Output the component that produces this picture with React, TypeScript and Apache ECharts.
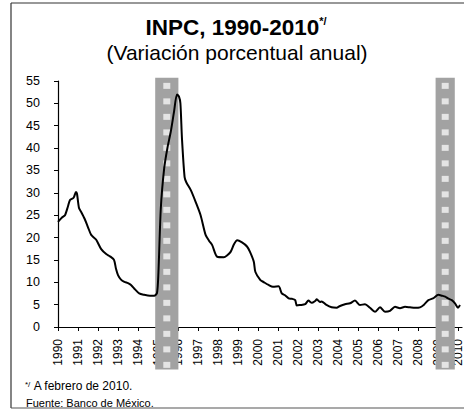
import React, { useEffect, useRef } from "react";
import * as echarts from "echarts";

const TITLE = "INPC, 1990-2010";
const TITLE_MARK = "*/";
const SUBTITLE = "(Variación porcentual anual)";
const NOTE_MARK = "*/";
const NOTE1 = "A febrero de 2010.";
const NOTE2 = "Fuente: Banco de México.";

const X_MIN = 1990;
const X_MAX = 2010.2;
const Y_MIN = 0;
const Y_MAX = 55;
const Y_STEP = 5;

// time (fractional year) and annual % change
const TIMES = [
  1990.0, 1990.2, 1990.35, 1990.5, 1990.6, 1990.78, 1990.9, 1990.95, 1991.05, 1991.15,
  1991.33, 1991.5, 1991.66, 1991.91, 1992.16, 1992.41, 1992.6, 1992.8, 1992.9, 1993.0,
  1993.15, 1993.32, 1993.5, 1993.65, 1993.85, 1994.06, 1994.31, 1994.6, 1994.81, 1994.95,
  1995.02, 1995.14, 1995.31, 1995.47, 1995.64, 1995.8, 1995.95, 1996.05, 1996.12, 1996.2,
  1996.33, 1996.42, 1996.64, 1996.88, 1997.13, 1997.38, 1997.55, 1997.71, 1997.96, 1998.29,
  1998.45, 1998.63, 1998.8, 1998.96, 1999.2, 1999.45, 1999.6, 1999.79, 1999.87, 2000.12,
  2000.3, 2000.53, 2000.75, 2001.03, 2001.19, 2001.35, 2001.53, 2001.7, 2001.86, 2001.94,
  2002.1, 2002.36, 2002.52, 2002.69, 2002.85, 2002.94, 2003.1, 2003.18, 2003.4, 2003.68,
  2003.93, 2004.1, 2004.35, 2004.6, 2004.85, 2005.1, 2005.35, 2005.6, 2005.85, 2006.1,
  2006.35, 2006.6, 2006.85, 2007.1, 2007.35, 2007.6, 2007.85, 2008.1, 2008.3, 2008.52,
  2008.75, 2009.02, 2009.2, 2009.36, 2009.5, 2009.69, 2009.85, 2010.0, 2010.1,
];
const VALUES = [
  23.5, 24.5, 25.0, 27.0, 28.4, 28.9, 30.2, 29.8, 26.6, 25.8,
  24.2, 22.3, 20.6, 19.5, 17.4, 16.3, 15.8, 15.0, 13.0, 11.6,
  10.6, 10.1, 9.8, 9.4, 8.4, 7.5, 7.2, 7.0, 7.0, 7.6,
  12.0, 26.5, 35.5, 40.0, 43.7, 48.1, 52.0, 51.5, 50.0, 42.0,
  33.5, 32.3, 30.6, 28.0, 25.0, 20.6, 19.3, 18.3, 15.7, 15.6,
  16.0, 16.8, 18.5, 19.4, 18.9, 18.0, 16.8, 14.6, 12.3, 10.5,
  10.0, 9.4, 9.0, 9.1, 7.5, 7.1, 6.4, 6.3, 6.0, 4.8,
  4.9, 5.1, 5.9, 5.4, 5.8, 6.2, 5.6, 5.7, 5.0, 4.4,
  4.3, 4.7, 5.1, 5.3, 5.9, 4.9, 5.1, 4.3, 3.4, 4.4,
  3.4, 3.6, 4.5, 4.2, 4.5, 4.4, 4.3, 4.4, 5.0, 6.0,
  6.4, 7.2, 7.0, 6.8, 6.4, 6.0, 5.3, 4.3, 4.9,
];

// shaded periods (fractional years) and their vertical reach (axis values)
const BAND_STARTS = [1994.86, 2008.88];
const BAND_ENDS = [1996.02, 2009.84];
const BAND_TOP = 55.7;
const BAND_BOTTOM = -9.5;

const FONT = "'Liberation Sans', Arial, sans-serif";

export default function App() {
  const ref = useRef<HTMLDivElement>(null);

  useEffect(() => {
    if (!ref.current) return;
    const chart = echarts.init(ref.current, undefined, { renderer: "svg" });
    const data = TIMES.map((t, i) => [t, VALUES[i]]);

    const baseGraphic: any[] = [
      {
        id: "frameL",
        type: "line",
        shape: { x1: 11, y1: 3, x2: 11, y2: 408 },
        style: { stroke: "#333", lineWidth: 1.2 },
        silent: true,
      },
      {
        id: "frameT",
        type: "line",
        shape: { x1: 11, y1: 3, x2: 464, y2: 3 },
        style: { stroke: "#333", lineWidth: 1.2 },
        silent: true,
      },
      {
        id: "frameB",
        type: "line",
        shape: { x1: 11, y1: 408, x2: 464, y2: 408 },
        style: { stroke: "#555", lineWidth: 1.2 },
        silent: true,
      },
      {
        id: "title",
        type: "text",
        x: 236,
        y: 27,
        style: {
          text: `{a|${TITLE}}{b|${TITLE_MARK}}`,
          align: "center",
          verticalAlign: "middle",
          rich: {
            a: { fontFamily: FONT, fontWeight: "bold", fontSize: 22.5, fill: "#000" },
            b: { fontFamily: FONT, fontWeight: "bold", fontSize: 11, fill: "#000", verticalAlign: "top" },
          },
        },
      },
      {
        id: "subtitle",
        type: "text",
        x: 237,
        y: 52,
        style: {
          text: SUBTITLE,
          align: "center",
          verticalAlign: "middle",
          fontFamily: FONT,
          fontSize: 21,
          fill: "#000",
        },
      },
      {
        id: "note1",
        type: "text",
        x: 25,
        y: 386,
        style: {
          text: `{s|${NOTE_MARK}} {t|${NOTE1}}`,
          align: "left",
          verticalAlign: "middle",
          rich: {
            s: { fontFamily: FONT, fontSize: 8, fill: "#000", verticalAlign: "top" },
            t: { fontFamily: FONT, fontSize: 12, fill: "#000" },
          },
        },
      },
      {
        id: "note2",
        type: "text",
        x: 26,
        y: 403,
        style: {
          text: NOTE2,
          align: "left",
          verticalAlign: "middle",
          fontFamily: FONT,
          fontSize: 11,
          fill: "#000",
        },
      },
    ];

    chart.setOption({
      animation: false,
      backgroundColor: "#fff",
      grid: { left: 58, right: 0, top: 81, bottom: 86, containLabel: false },
      xAxis: {
        type: "value",
        min: X_MIN,
        max: X_MAX,
        interval: 1,
        axisLine: { show: true, lineStyle: { color: "#000", width: 1.2 } },
        axisTick: { show: true, length: 4, lineStyle: { color: "#000" } },
        splitLine: { show: false },
        axisLabel: {
          rotate: 90,
          margin: 12,
          fontFamily: FONT,
          fontSize: 12,
          color: "#000",
          showMaxLabel: false,
          formatter: (v: number) => (Math.abs(v - Math.round(v)) < 1e-6 ? String(Math.round(v)) : ""),
        },
      },
      yAxis: {
        type: "value",
        min: Y_MIN,
        max: Y_MAX,
        interval: Y_STEP,
        axisLine: { show: true, lineStyle: { color: "#000", width: 1.2 } },
        axisTick: { show: true, length: 4, lineStyle: { color: "#000" } },
        splitLine: { show: false },
        axisLabel: { margin: 18, fontFamily: FONT, fontSize: 12.5, color: "#000" },
      },
      series: [
        {
          type: "line",
          data,
          showSymbol: false,
          smooth: 0.25,
          z: 5,
          lineStyle: { color: "#000", width: 2 },
        },
      ],
      graphic: baseGraphic,
    });

    // shaded bands placed through the axis scales, with a light-square texture
    const bandEls: any[] = [];
    BAND_STARTS.forEach((s, i) => {
      const p1 = chart.convertToPixel({ gridIndex: 0 }, [s, BAND_TOP]) as number[];
      const p2 = chart.convertToPixel({ gridIndex: 0 }, [BAND_ENDS[i], BAND_BOTTOM]) as number[];
      const x = p1[0];
      const y = p1[1];
      const w = p2[0] - p1[0];
      const h = p2[1] - p1[1];
      bandEls.push({
        id: "band" + i,
        type: "rect",
        z: 1,
        shape: { x, y, width: w, height: h },
        style: { fill: "#a2a2a2" },
        silent: true,
      });
      const sq = 7;
      const step = 15.5;
      let k = 0;
      for (let yy = y + 5; yy + 6 <= y + h; yy += step) {
        bandEls.push({
          id: `band${i}sq${k}`,
          type: "rect",
          z: 1,
          shape: { x: x + w / 2 - sq / 2, y: yy, width: sq, height: 6 },
          style: { fill: "#e4e4e4" },
          silent: true,
        });
        k++;
      }
    });
    chart.setOption({ graphic: [...baseGraphic, ...bandEls] });

    return () => chart.dispose();
  }, []);

  return (
    <div
      ref={ref}
      style={{ position: "fixed", left: 0, top: 0, width: 464, height: 413 }}
    />
  );
}
